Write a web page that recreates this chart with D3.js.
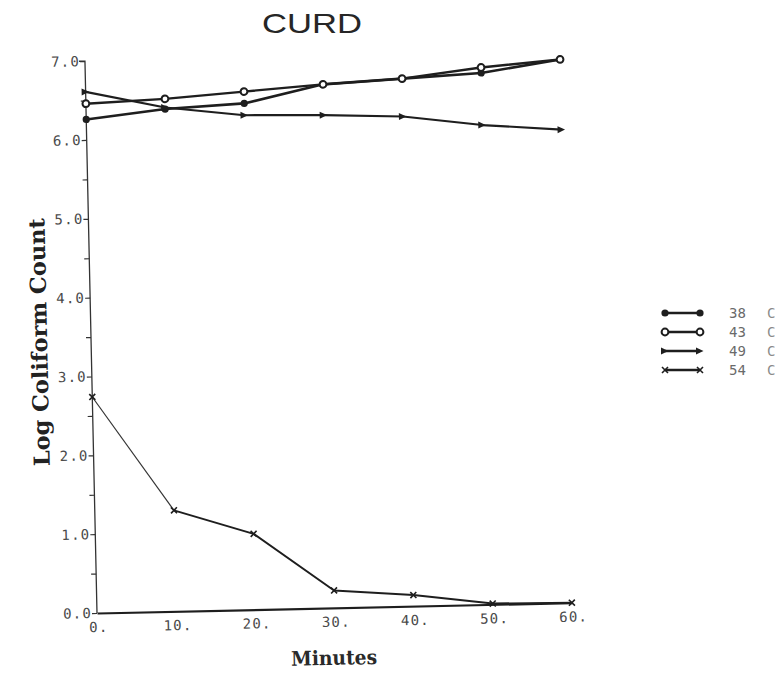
<!DOCTYPE html>
<html><head><meta charset="utf-8">
<script src="https://cdn.jsdelivr.net/npm/d3@7"></script>
<style>body{margin:0;background:#fff}svg{display:block}</style>
</head><body><svg id="c" width="782" height="676"></svg>
<script>
const minutes = [0, 10, 20, 30, 40, 50, 60];
const s38 = [6.26, 6.37, 6.42, 6.64, 6.69, 6.74, 6.89];
const s43 = [6.46, 6.50, 6.57, 6.64, 6.69, 6.81, 6.89];
const s49 = [6.61, 6.39, 6.27, 6.25, 6.21, 6.08, 6.00];
const s54 = [2.74, 1.28, 0.96, 0.22, 0.14, 0.01, 0.00];
const seriesNames = ["38 C", "43 C", "49 C", "54 C"];
const markers = ["dot", "ring", "arrow", "cross"];
const yTicks = [0, 1, 2, 3, 4, 5, 6, 7];
const yTickLabels = ["0.0", "1.0", "2.0", "3.0", "4.0", "5.0", "6.0", "7.0"];
const xTickLabels = ["0.", "10.", "20.", "30.", "40.", "50.", "60."];

const svg = d3.select("#c");
const ink = "#1e1e1e";
const x = d3.scaleLinear().domain([0, 60]).range([97, 572]);
const y = d3.scaleLinear().domain([0, 7]).range([613, 61]);
const mono = "DejaVu Sans Mono, monospace";
const serif = "DejaVu Serif, serif";

svg.append("text").attr("x", 262).attr("y", 33)
  .attr("font-family", "Liberation Sans, Arial, sans-serif").attr("font-size", 28)
  .attr("textLength", 100).attr("lengthAdjust", "spacingAndGlyphs")
  .attr("fill", "#262626").text("CURD");

// whole plot is slightly rotated, like the scanned page
const g = svg.append("g").attr("transform", `rotate(-1.25, ${x(0)}, ${y(0)})`);

const ya = g.append("g").attr("transform", `translate(${x(0)},0)`)
  .call(d3.axisLeft(y).tickValues(d3.range(0, 7.01, 0.5)).tickSize(5)
    .tickFormat(d => Number.isInteger(d) ? yTickLabels[yTicks.indexOf(d)] : ""));
ya.select(".domain").attr("stroke", "#333").attr("stroke-width", 1.3)
  .attr("d", `M0,${y(0)}V${y(7)}H-6`);
ya.selectAll(".tick line").attr("stroke", "#333").attr("stroke-width", 1.2);
ya.selectAll(".tick text").attr("font-family", mono).attr("font-size", 14)
  .attr("letter-spacing", 1.2).attr("fill", "#4a4a4a").attr("x", -5);

const xa = g.append("g").attr("transform", `translate(0,${y(0)})`)
  .call(d3.axisBottom(x).tickValues(minutes).tickSize(0)
    .tickFormat((d, i) => xTickLabels[i]));
xa.select(".domain").attr("stroke", ink).attr("stroke-width", 2.2);
xa.selectAll(".tick text").attr("font-family", mono).attr("font-size", 14)
  .attr("letter-spacing", 1.2).attr("fill", "#4a4a4a").attr("dy", 16).attr("dx", 1);

g.append("text").attr("transform", `translate(53,${y(3.5) + 4}) rotate(-90)`)
  .attr("text-anchor", "middle").attr("font-family", serif)
  .attr("font-stretch", "condensed").attr("font-weight", "bold").attr("font-size", 22)
  .attr("textLength", 248).attr("lengthAdjust", "spacingAndGlyphs")
  .attr("fill", "#222").text("Log Coliform Count");
g.append("text").attr("x", 333).attr("y", y(0) + 57).attr("text-anchor", "middle")
  .attr("font-family", serif).attr("font-stretch", "condensed")
  .attr("font-weight", "bold").attr("font-size", 20)
  .attr("textLength", 86).attr("lengthAdjust", "spacingAndGlyphs")
  .attr("fill", "#2a2a2a").text("Minutes");

const line = d3.line().x(d => x(d[0])).y(d => y(d[1]));
const allSeries = [s38, s43, s49, s54];
const widths = [2.6, 2.4, 2.2, 2.0];

function drawMarker(sel, type, cx, cy) {
  if (type === "dot") sel.append("circle").attr("cx", cx).attr("cy", cy).attr("r", 3.6).attr("fill", ink);
  else if (type === "ring") sel.append("circle").attr("cx", cx).attr("cy", cy).attr("r", 3.4)
    .attr("fill", "#fff").attr("stroke", ink).attr("stroke-width", 2);
  else if (type === "arrow") sel.append("path")
    .attr("d", `M${cx - 4},${cy - 3.5}L${cx + 3.5},${cy}L${cx - 4},${cy + 3.5}Z`).attr("fill", ink);
  else sel.append("path").attr("d", `M${cx - 3},${cy - 3}L${cx + 3},${cy + 3}M${cx - 3},${cy + 3}L${cx + 3},${cy - 3}`)
    .attr("stroke", ink).attr("stroke-width", 1.6);
}

allSeries.forEach((s, k) => {
  const pts = minutes.map((m, i) => [m, s[i]]);
  if (k === 3) {
    // the first pen stroke of this curve is drawn thinner in the original
    g.append("path").attr("d", line(pts.slice(0, 2))).attr("fill", "none")
      .attr("stroke", "#333").attr("stroke-width", 1.2);
    g.append("path").attr("d", line(pts.slice(1))).attr("fill", "none")
      .attr("stroke", ink).attr("stroke-width", widths[k]).attr("stroke-linejoin", "round");
  } else {
    g.append("path").attr("d", line(pts)).attr("fill", "none")
      .attr("stroke", ink).attr("stroke-width", widths[k]).attr("stroke-linejoin", "round");
  }
  const mg = g.append("g");
  pts.forEach(p => drawMarker(mg, markers[k], x(p[0]), y(p[1])));
});

// legend
const lg = svg.append("g");
seriesNames.forEach((n, k) => {
  const ly = 313 + k * 19;
  lg.append("line").attr("x1", 665).attr("x2", 700).attr("y1", ly).attr("y2", ly)
    .attr("stroke", ink).attr("stroke-width", 2.4);
  drawMarker(lg, markers[k], 665, ly);
  drawMarker(lg, markers[k], 700, ly);
  const parts = n.split(" ");
  lg.append("text").attr("x", 729).attr("y", ly + 5).attr("font-family", mono)
    .attr("font-size", 14).attr("fill", "#6a6a6a").text(parts[0]);
  lg.append("text").attr("x", 767).attr("y", ly + 5).attr("font-family", mono)
    .attr("font-size", 14).attr("fill", "#8a8a8a").text(parts[1]);
});
</script></body></html>
